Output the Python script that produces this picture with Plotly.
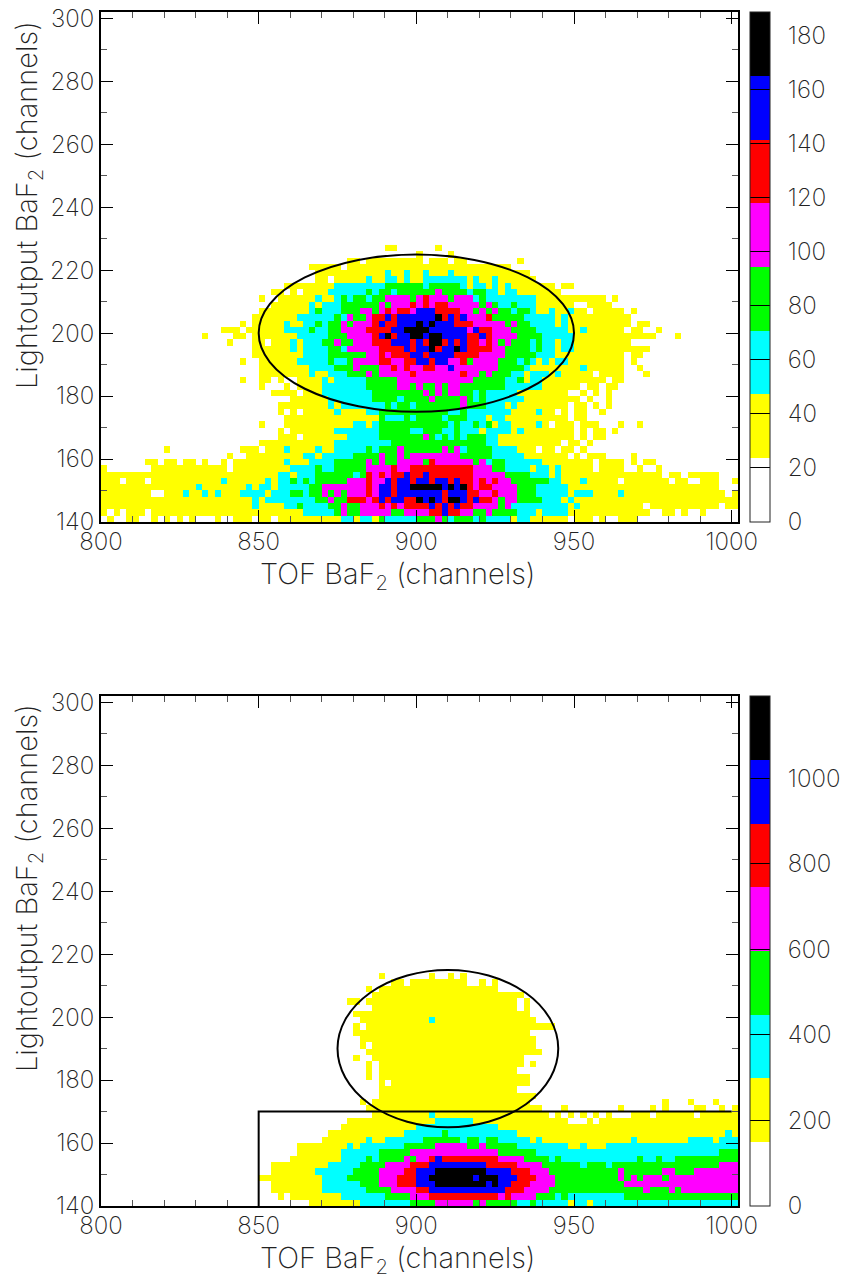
import numpy as np
import plotly.graph_objects as go

W, H = 849, 1279
n_cols = 101
level_colors = ["#ffffff", "#ffff00", "#00ffff", "#00ff00", "#ff00ff", "#ff0000", "#0000ff", "#000000"]

# colour level of each 2x2-channel cell, one string per row, bottom row first: "first_column:level"
top_rows = [
"0:0 1:1 2:0 4:1 6:0 8:1 9:0 10:1 11:0 12:1 13:0 14:1 15:0 18:1 19:0 21:1 24:0 25:1 27:0 28:1 38:2 40:1 41:2 43:1 44:3 45:2 50:3 53:4 54:3 55:2 56:3 59:2 60:3 61:2 65:1 66:2 68:1 74:0 75:1 78:0 79:1 80:0 82:1 85:0",
"0:1 1:0 2:1 3:0 4:1 7:0 8:1 32:2 37:3 38:4 39:3 41:4 46:3 48:4 52:5 54:6 55:5 57:4 59:3 61:4 62:3 66:2 69:1 70:2 74:1 87:0 89:1 91:0 92:1 93:0 95:1 96:0",
"0:1 24:2 25:1 29:2 31:3 32:2 36:3 38:4 39:3 41:4 44:5 45:4 46:5 47:4 48:5 52:6 53:5 54:6 55:5 56:6 57:5 59:4 63:3 64:4 65:2 74:1 75:2 76:1 86:0 87:1 98:0 99:1",
"0:1 24:2 25:1 26:2 34:3 36:4 37:3 39:5 42:4 43:5 44:6 45:5 46:6 48:5 50:7 51:6 52:7 53:6 54:5 55:7 57:6 58:5 59:6 60:5 62:4 63:3 64:4 66:3 70:2 73:1 74:2 75:1",
"0:1 8:0 10:1 13:2 14:1 16:2 17:1 18:2 19:1 22:2 26:1 27:2 30:3 32:2 33:3 35:4 36:3 37:4 38:3 39:4 42:5 43:4 44:6 46:5 47:6 54:5 55:6 58:5 60:4 62:5 63:4 66:3 69:2 74:1 75:2 78:1 82:2 83:1 99:0 100:1",
"0:1 15:2 16:1 23:2 24:1 25:2 27:1 28:2 33:3 35:4 42:5 43:4 44:6 46:5 47:6 49:7 54:6 55:7 56:6 57:7 58:5 59:4 60:5 62:4 66:3 69:2 74:1 98:0",
"0:1 3:0 4:1 7:0 8:1 19:2 20:1 26:2 27:1 28:2 30:3 31:2 32:3 33:2 34:3 39:4 42:5 43:4 45:6 46:5 47:6 49:5 50:6 52:5 53:6 55:5 56:6 57:5 59:4 60:5 61:4 62:5 63:4 65:3 71:2 73:1 76:2 77:1 82:0 83:1 90:0 91:1 93:0 95:1 98:0 100:1",
"0:1 28:2 30:1 31:2 34:3 40:2 41:3 42:5 43:4 44:5 45:4 46:5 48:6 49:5 51:6 52:5 59:4 64:3 68:2 71:1 72:2 73:1 89:0 90:1 92:0 93:1 98:0",
"0:1 1:0 8:1 20:0 21:1 30:2 34:3 35:2 37:3 42:4 46:5 47:4 49:5 59:4 62:3 64:2 68:1 69:2 71:1 72:2 73:1 78:0 79:1 83:0 85:1 86:0 88:1 89:0",
"0:0 7:1 9:0 10:1 12:0 13:1 15:0 16:1 17:0 19:1 20:0 21:1 29:2 30:1 33:2 37:3 42:4 43:3 44:4 45:3 47:4 51:3 52:5 53:4 59:3 60:4 61:2 62:3 64:2 70:1 78:0 79:1 83:0 84:1 85:0 86:1 88:0",
"0:0 20:1 21:0 23:1 32:2 34:1 35:2 40:3 44:4 45:3 47:4 48:3 49:4 57:3 62:2 67:1 74:0 75:1 76:0 77:1 80:0 84:1 85:0",
"0:0 10:1 11:0 22:1 25:0 26:1 29:2 30:1 34:2 35:1 37:2 42:3 43:2 44:3 47:4 48:3 54:4 55:3 56:4 57:2 58:3 62:2 66:1 69:0 70:1 72:0 73:1 75:0 76:1 77:0",
"0:0 25:1 37:2 46:3 61:2 63:1 73:0 74:1 76:0 77:1 78:0",
"0:0 28:1 31:0 32:1 39:2 44:3 51:4 52:3 53:2 54:3 55:2 56:3 57:2 58:3 61:2 63:1 75:0 76:1 77:0 78:1 80:0",
"0:0 28:1 29:0 30:1 37:2 44:3 49:2 51:3 54:2 56:3 57:2 60:1 61:2 65:1 66:2 67:1 75:0 76:1 77:0 78:1 80:0 81:1 82:0",
"0:0 25:1 26:0 29:1 40:2 42:1 43:2 44:3 55:2 56:3 57:2 59:3 60:2 61:3 62:1 63:2 65:1 69:2 70:1 71:0 72:1 75:0 76:1 79:0 82:1 83:0 85:1 86:0",
"0:0 29:1 44:3 45:2 48:3 49:2 50:3 54:2 55:3 58:2 61:1 62:2 64:1 74:0 75:1 77:0",
"0:0 28:1 29:0 30:1 31:0 32:1 37:2 38:1 42:2 44:3 55:2 57:3 58:2 65:1 69:2 70:1 72:0 73:1 74:0 75:1 77:0 79:1 80:0",
"0:0 28:1 36:2 37:1 38:2 45:3 46:2 47:3 49:2 50:3 57:4 58:3 61:2 64:1 65:2 66:1 74:0 75:1 77:0 78:1 79:0 80:1 81:0",
"0:0 30:1 36:2 43:3 47:2 48:3 52:4 53:3 57:4 58:3 59:2 60:3 61:2 67:1 76:0 77:1 78:0 80:1 81:0",
"0:0 27:1 31:0 32:1 35:2 43:3 51:4 52:3 53:4 54:3 55:4 57:3 59:2 60:3 61:2 66:1 74:0 76:1 77:0 78:1 79:0 80:1 81:0",
"0:0 25:1 26:0 29:1 30:0 31:1 35:2 42:3 47:4 49:3 50:4 51:3 53:4 54:3 55:4 57:3 64:2 70:1 76:0 77:1 79:0 80:1 82:0",
"0:0 22:1 23:0 25:1 27:0 28:1 29:0 31:1 35:2 36:1 37:2 42:3 47:4 59:3 64:2 66:3 67:1 68:2 70:1 80:0 81:1 83:0",
"0:0 25:1 33:2 34:1 36:2 39:3 42:4 43:3 44:4 49:5 50:4 57:5 58:4 60:3 61:4 62:3 65:2 67:1 68:2 71:1 72:2 73:1 78:0 79:1 83:0 86:1 87:0",
"0:0 25:1 33:2 37:3 40:4 41:3 44:4 46:5 47:4 48:5 49:4 51:5 53:4 55:6 56:4 63:3 67:2 68:1 76:2 77:1 83:0 85:1 86:0",
"0:0 22:1 23:0 25:1 31:2 36:3 37:2 39:3 40:4 44:5 46:4 48:5 50:6 52:5 53:6 55:4 57:5 58:3 59:4 63:3 66:2 67:3 68:2 69:1 70:2 71:1 72:2 74:1 83:0 84:1 85:0",
"0:0 24:1 32:2 36:3 42:4 44:5 45:4 46:5 49:6 51:5 52:6 56:5 60:4 64:3 69:2 72:1 83:0 84:1 86:0",
"0:0 24:1 30:2 31:1 32:2 36:3 38:2 39:4 44:5 48:6 49:5 50:6 52:7 53:5 54:6 56:7 57:6 58:5 62:4 64:3 68:2 69:3 70:2 72:1 73:2 75:1 87:0",
"0:0 20:1 21:0 24:1 26:0 27:1 30:2 31:1 32:2 35:3 37:4 38:3 40:4 43:5 46:6 49:5 50:6 51:5 52:7 54:5 55:6 56:5 57:6 58:5 60:4 61:5 62:4 63:3 64:4 65:3 68:2 69:3 70:2 72:1 73:2 75:1 84:0",
"0:0 16:1 17:0 21:1 23:0 24:1 31:2 36:3 39:4 43:5 44:6 45:7 46:5 47:6 49:7 51:6 52:7 54:6 58:5 60:6 61:5 62:4 66:3 70:2 75:1 88:0 91:1 92:0",
"0:0 19:1 22:0 23:1 29:2 33:3 34:2 36:3 38:4 42:5 46:6 48:7 52:6 58:4 59:6 60:5 62:4 65:3 69:2 74:1 76:2 77:1 83:0 84:1 86:0 88:1 89:0",
"0:0 22:1 23:0 24:1 29:2 30:1 32:2 34:3 35:2 36:3 38:4 39:3 40:4 43:5 44:6 45:5 47:6 50:7 51:6 52:7 53:6 56:5 59:4 64:3 65:4 66:3 68:2 72:1 73:2 74:1 84:0 85:1 87:0",
"0:0 24:1 31:2 37:3 38:2 39:4 40:3 42:4 43:5 45:6 46:5 47:6 53:7 54:5 55:6 56:5 57:6 58:4 61:5 62:3 67:2 72:1 73:2 74:1 84:0",
"0:0 25:1 33:2 34:3 35:2 38:3 41:4 43:3 44:4 45:5 46:4 47:5 49:4 50:6 53:5 57:4 59:3 60:4 61:3 62:4 63:3 65:2 66:3 68:2 69:1 71:2 72:1 74:2 75:1 77:0 78:1 83:0 84:1 85:0",
"0:0 27:1 33:2 34:1 35:2 38:3 44:4 45:3 46:4 49:5 50:4 51:5 52:4 53:5 55:4 60:3 61:4 62:3 63:2 65:3 66:2 69:1 75:0 77:1 81:0",
"0:0 25:1 26:0 28:1 34:2 35:1 37:2 38:3 39:2 40:3 42:2 43:3 45:4 49:3 50:4 51:5 52:4 55:3 56:4 59:2 60:3 61:2 69:1 80:0 81:1 82:0",
"0:0 27:1 29:0 30:1 31:0 32:1 36:2 42:3 43:2 44:3 46:2 47:3 53:4 54:3 58:2 59:3 61:2 63:1 64:2 66:1 73:0",
"0:0 29:1 37:2 45:3 51:2 52:3 57:2 58:1 59:2 61:1 62:2 63:1 64:2 65:1 72:0 73:1 75:0",
"0:0 34:1 36:0 37:1 42:2 43:1 45:2 47:1 48:2 49:1 51:2 58:1 59:2 60:1 62:2 63:1 69:0",
"0:0 34:1 45:2 46:1 48:2 49:1 51:2 52:1 55:2 56:1 68:0",
"0:0 33:1 38:0 39:1 65:0",
"0:0 39:1 41:0 42:1 51:0 52:1 55:0 56:1 58:0 66:1 67:0",
"0:0 50:1 51:0 55:1 56:0",
"0:0 45:1 47:0 53:1 54:0",
]

bottom_rows = [
"0:0 33:1 41:2 49:3 53:4 59:3 60:4 61:3 66:2 68:3 69:2 74:1 75:2 77:1 78:2",
"0:0 28:1 29:0 30:1 38:2 45:3 49:4 52:5 63:4 64:5 65:4 69:3 72:2 73:3 74:2 83:3",
"0:0 27:1 35:2 42:3 46:4 50:5 52:6 64:5 67:4 71:3 86:4 87:3 90:4 91:3 92:4",
"0:0 27:1 35:2 41:3 44:4 47:5 50:6 53:7 61:6 62:7 63:6 65:5 68:4 72:3 83:4",
"0:0 25:1 35:2 39:3 44:4 47:5 50:6 52:7 59:6 60:7 63:6 66:5 69:4 72:3 82:4 83:3 84:4 85:3 86:4 89:3 90:4",
"0:0 27:1 34:2 40:3 44:4 48:5 50:6 53:7 61:6 65:5 68:4 71:3 82:4 83:3 89:4 91:3 94:4",
"0:0 27:1 36:2 41:3 45:4 49:5 52:6 61:5 66:4 70:3 76:2 77:3 80:2 81:3 98:4",
"0:0 30:1 38:2 42:3 43:2 44:3 48:4 49:3 50:4 52:5 53:6 54:5 63:4 67:3 71:2 72:3 73:2 85:3 86:2 88:3 89:2 91:3",
"0:0 31:1 38:2 44:3 49:4 63:3 69:2 98:3",
"0:0 31:1 39:2 40:1 41:2 48:3 53:4 58:3 60:4 61:3 66:2 74:1 76:2 77:1 80:2",
"0:0 35:1 42:2 43:1 45:2 51:3 57:2 58:3 60:2 61:3 63:2 68:1 69:2 70:1 84:2 85:1 93:2 97:1 98:2",
"0:0 36:1 48:2 54:3 55:2 66:1 99:2 100:1",
"0:0 38:1 50:2 63:1",
"0:0 39:1 53:2 59:1 74:0 77:1 78:0 79:1",
"0:0 43:1 52:2 53:1 71:0 72:1 73:0 74:1 75:0 76:1 77:0 78:1 79:0 80:1 81:0 84:1 87:0 88:1 94:0 95:1",
"0:0 42:1 70:0 73:1 74:0 82:1 83:0 87:1 88:0 89:1 90:0 94:1 96:0 98:1 99:0 100:1",
"0:0 41:1 42:0 43:1 68:0 89:1 90:0 93:1 94:0 97:1 98:0",
"0:0 44:1 69:0",
"0:0 44:1 66:0",
"0:0 44:1 45:0 46:1 68:0",
"0:0 42:1 43:0 44:1 68:0",
"0:0 42:1 43:0 44:1 66:0",
"0:0 42:1 43:0 44:1 67:0 68:1 69:0",
"0:0 40:1 41:0 43:1 67:0",
"0:0 42:1 70:0",
"0:0 41:1 42:0 43:1 69:0",
"0:0 41:1 69:0",
"0:0 40:1 68:0",
"0:0 40:1 41:0 42:1 72:0",
"0:0 41:1 52:2 53:1 69:0",
"0:0 40:1 68:0",
"0:0 43:1 66:0 67:1 68:0",
"0:0 39:1 41:0 42:1 66:0 67:1 68:0",
"0:0 43:1 67:0",
"0:0 42:1 43:0 44:1 63:0",
"0:0 46:1 48:0 49:1 58:0 60:1 61:0 62:1 63:0",
"0:0 44:1 45:0 52:1 53:0 55:1 56:0 57:1 58:0",
]

top_level_width = 23.6      # counts per colour level
bottom_level_width = 149.0
top_ticks = list(range(0, 181, 20))
bottom_ticks = list(range(0, 1001, 200))

# ellipses: centre x, centre y, half-width, half-height
top_ellipse = (900, 200, 50, 25)
bottom_ellipse = (910, 190, 35, 25)
box_x = [850, 850, 1000]
box_y = [140, 170, 170]

x_title = "TOF BaF<sub>2</sub> (channels)"
y_title = "Lightoutput BaF<sub>2</sub> (channels)"
FONT = "Inter"
WEIGHT = 200
TXT = "#222222"


def expand(rows, width):
    grid = np.zeros((len(rows), n_cols))
    for i, row in enumerate(rows):
        toks = [t.split(":") for t in row.split()]
        for j, (c, l) in enumerate(toks):
            end = int(toks[j + 1][0]) if j + 1 < len(toks) else n_cols
            grid[i, int(c):end] = (int(l) + 0.5) * width
    return grid


def discrete_scale():
    scale = []
    n = len(level_colors)
    for i, col in enumerate(level_colors):
        scale += [[i / n, col], [(i + 1) / n, col]]
    return scale


def cbar(ticks, y_center):
    return dict(
        x=750 / W, xanchor="left", xref="paper", xpad=0, ypad=0,
        y=y_center, yanchor="middle", yref="paper",
        len=510 / H, lenmode="fraction", thickness=20, thicknessmode="pixels",
        outlinecolor="#222222", outlinewidth=1, bordercolor="rgba(0,0,0,0)",
        tickmode="array", tickvals=ticks, ticktext=["\u2002" + str(t) for t in ticks],
        ticks="inside", ticklen=20, tickcolor="black", tickwidth=1,
        tickfont=dict(family=FONT, size=24, color=TXT, weight=WEIGHT),
    )


fig = go.Figure()
fig.add_trace(go.Heatmap(z=expand(top_rows, top_level_width), x0=801, dx=2, y0=141, dy=2,
                         coloraxis="coloraxis", xaxis="x", yaxis="y", hoverinfo="skip"))
fig.add_trace(go.Heatmap(z=expand(bottom_rows, bottom_level_width), x0=801, dx=2, y0=141, dy=2,
                         coloraxis="coloraxis2", xaxis="x2", yaxis="y2", hoverinfo="skip"))
fig.add_trace(go.Scatter(x=box_x, y=box_y, mode="lines", line=dict(color="black", width=2),
                         xaxis="x2", yaxis="y2", showlegend=False, hoverinfo="skip"))

for (cx, cy, a, b), xr, yr in [(top_ellipse, "x", "y"), (bottom_ellipse, "x2", "y2")]:
    fig.add_shape(type="circle", xref=xr, yref=yr, x0=cx - a, x1=cx + a, y0=cy - b, y1=cy + b,
                  line=dict(color="black", width=2), layer="above")

xax = dict(range=[800, 1002], tickmode="array", tickvals=[800, 850, 900, 950, 1000], ticks="inside",
           ticklen=12, tickcolor="black", tickwidth=1, showgrid=False, zeroline=False,
           showline=True, linecolor="black", linewidth=2, mirror="allticks", ticklabelstandoff=-3,
           tickfont=dict(family=FONT, size=24, color=TXT, weight=WEIGHT),
           minor=dict(dtick=10, tick0=800, ticks="inside", ticklen=6, tickcolor="#555555", tickwidth=1, showgrid=False))
yax = dict(range=[140, 302], tickmode="array", tickvals=list(range(140, 301, 20)), ticks="inside",
           ticklen=12, tickcolor="black", tickwidth=1, showgrid=False, zeroline=False,
           showline=True, linecolor="black", linewidth=2, mirror="allticks",
           tickfont=dict(family=FONT, size=24, color=TXT, weight=WEIGHT),
           minor=dict(dtick=10, tick0=140, ticks="inside", ticklen=6, tickcolor="#555555", tickwidth=1, showgrid=False))

dx = [101 / W, 738 / W]
top_dom = [1 - 522 / H, 1 - 12 / H]
bot_dom = [1 - 1206 / H, 1 - 696 / H]

annotations = []
for px_x, px_y in [(398, 575), (398, 1259)]:
    annotations.append(dict(text=x_title, x=px_x / W, y=1 - px_y / H, xref="paper", yref="paper",
                            showarrow=False, xanchor="center", yanchor="middle",
                            font=dict(family=FONT, size=29, color=TXT, weight=WEIGHT)))
for px_x, px_y in [(28, 205), (28, 888)]:
    annotations.append(dict(text=y_title, x=px_x / W, y=1 - px_y / H, xref="paper", yref="paper",
                            showarrow=False, xanchor="center", yanchor="middle", textangle=-90,
                            font=dict(family=FONT, size=29, color=TXT, weight=WEIGHT)))

fig.update_layout(
    width=W, height=H, margin=dict(l=0, r=0, t=0, b=0, autoexpand=False), paper_bgcolor="white", plot_bgcolor="white",
    showlegend=False, annotations=annotations,
    xaxis=dict(domain=dx, anchor="y", **xax), yaxis=dict(domain=top_dom, anchor="x", **yax),
    xaxis2=dict(domain=dx, anchor="y2", **xax), yaxis2=dict(domain=bot_dom, anchor="x2", **yax),
    coloraxis=dict(colorscale=discrete_scale(), cmin=0, cmax=top_level_width * 8,
                   colorbar=cbar(top_ticks, 1 - 267 / H)),
    coloraxis2=dict(colorscale=discrete_scale(), cmin=0, cmax=bottom_level_width * 8,
                    colorbar=cbar(bottom_ticks, 1 - 951 / H)),
)

fig.write_html("out.html", config=dict(displayModeBar=False), post_script="document.body.style.margin='0';")
